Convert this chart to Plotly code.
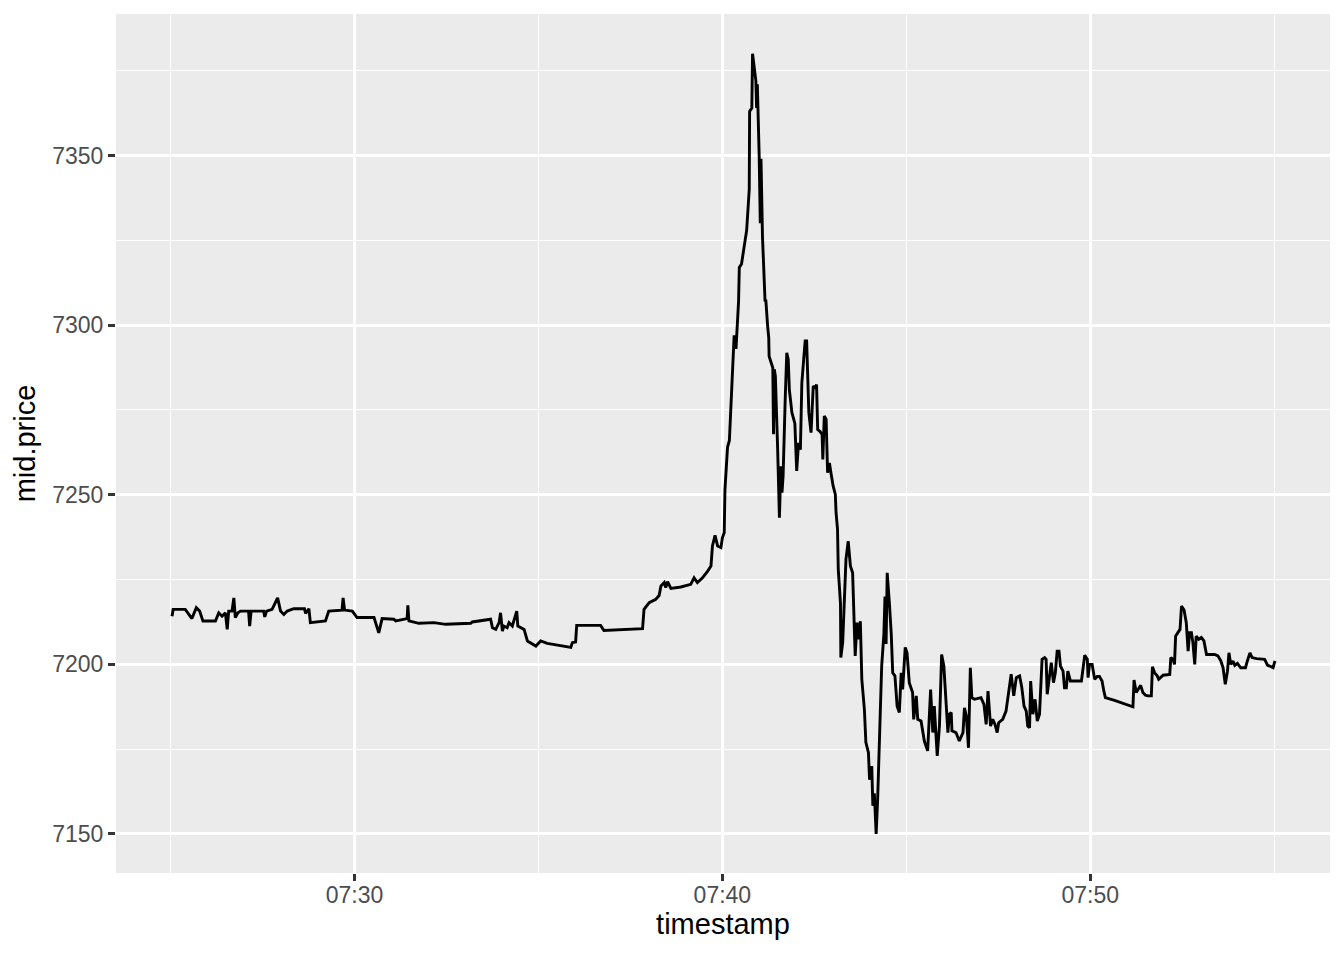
import pandas as pd
import plotly.graph_objects as go

# minutes elapsed since 07:25:00 and the mid price at that moment
elapsed_min = [
    0.04, 0.07, 0.40, 0.49, 0.58, 0.70, 0.79, 0.88, 1.22, 1.31, 1.40, 1.49, 1.54, 1.58,
    1.67, 1.72, 1.76, 1.83, 1.90, 2.12, 2.15, 2.19, 2.53, 2.56, 2.61, 2.76, 2.91, 2.99,
    3.08, 3.17, 3.35, 3.64, 3.67, 3.76, 3.80, 4.21, 4.30, 4.66, 4.69, 4.73, 4.94, 5.07,
    5.53, 5.66, 5.75, 6.07, 6.12, 6.43, 6.45, 6.48, 6.75, 7.16, 7.48, 8.16, 8.20, 8.70,
    8.75, 8.84, 8.93, 8.97, 9.02, 9.06, 9.15, 9.20, 9.29, 9.41, 9.44, 9.61, 9.70, 9.93,
    10.06, 10.24, 10.88, 10.92, 11.01, 11.04, 11.69, 11.78, 12.42, 12.83, 12.87, 13.01,
    13.19, 13.28, 13.33, 13.42, 13.46, 13.51, 13.60, 13.87, 14.14, 14.23, 14.32, 14.46,
    14.60, 14.69, 14.73, 14.80, 14.87, 14.96, 15.00, 15.05,
    15.07, 15.14, 15.19, 15.23, 15.28, 15.32, 15.37, 15.41, 15.44, 15.46, 15.52, 15.66,
    15.69, 15.73, 15.74, 15.80, 15.82, 15.87, 15.91, 15.93, 15.95, 16.00, 16.03, 16.05,
    16.09, 16.16, 16.18, 16.23, 16.26, 16.27, 16.37, 16.39, 16.41, 16.44, 16.47, 16.50,
    16.55, 16.59, 16.62, 16.65, 16.71, 16.75, 16.79, 16.82, 16.89, 16.94, 16.97, 17.02,
    17.07, 17.12, 17.16, 17.21, 17.25, 17.29, 17.32, 17.35, 17.41, 17.47, 17.53, 17.56,
    17.59, 17.65, 17.71, 17.73, 17.77, 17.82, 17.86, 17.91, 17.95, 18.01, 18.07, 18.09,
    18.13, 18.15, 18.21, 18.22, 18.27, 18.32, 18.36, 18.42, 18.48, 18.54, 18.59, 18.61,
    18.66, 18.70, 18.75, 18.79, 18.86, 18.90, 18.97, 19.00, 19.06, 19.09, 19.13, 19.18,
    19.22, 19.29, 19.33, 19.39, 19.42, 19.45, 19.48, 19.54, 19.59, 19.63, 19.69, 19.75,
    19.81, 19.86, 19.90, 19.97, 20.02, 20.08, 20.17, 20.20, 20.27, 20.31,
    20.40, 20.49, 20.58, 20.66, 20.72, 20.76, 20.84, 20.90, 20.96, 21.02, 21.08, 21.13,
    21.17, 21.22, 21.24, 21.35, 21.44, 21.54, 21.58, 21.63, 21.69, 21.74, 21.78, 21.85,
    22.03, 22.11, 22.17, 22.22, 22.29, 22.35, 22.41, 22.47, 22.51, 22.62, 22.71, 22.78,
    22.85, 22.92, 22.99, 23.08, 23.14, 23.20, 23.26, 23.30, 23.35, 23.38, 23.44, 23.50,
    23.56, 23.62, 23.69, 23.76, 23.80, 23.83, 23.89, 23.94, 24.00, 24.05, 24.10, 24.15,
    24.19, 24.26, 24.30, 24.35, 24.39, 24.46, 24.76, 24.85, 24.92, 24.94, 24.98, 25.05,
    25.12, 25.19, 25.25, 25.32, 25.37, 25.41, 25.66, 26.16, 26.19, 26.25, 26.30, 26.37,
    26.43, 26.50, 26.57, 26.66, 26.69, 26.75, 26.82, 26.86, 26.98, 27.16, 27.19, 27.25,
    27.29, 27.32, 27.39, 27.44, 27.48, 27.55, 27.61, 27.66, 27.70, 27.75, 27.79, 27.84,
    27.88, 27.95, 28.02, 28.09, 28.16, 28.38, 28.47, 28.55, 28.61, 28.67, 28.73, 28.77,
    28.82, 28.88, 28.93, 29.00, 29.09, 29.22, 29.27, 29.34, 29.40, 29.52, 29.74, 29.82,
    29.88, 29.97, 30.02,
]
mid_price = [
    7214.2, 7216.2, 7216.2, 7214.7, 7213.5, 7216.7, 7215.7, 7212.8, 7212.8, 7215.2, 7214.2, 7215.2, 7210.3, 7215.7,
    7215.7, 7219.6, 7213.8, 7215.2, 7215.7, 7215.7, 7211.3, 7215.7, 7215.7, 7214.0, 7215.7, 7216.2, 7219.6, 7215.7,
    7214.7, 7215.7, 7216.4, 7216.4, 7215.0, 7216.4, 7212.3, 7212.8, 7215.7, 7216.0, 7219.6, 7216.0, 7215.7, 7213.8,
    7213.8, 7209.3, 7213.5, 7213.3, 7212.8, 7213.5, 7217.4, 7212.8, 7212.1, 7212.3, 7211.8, 7212.1, 7212.5, 7213.3,
    7210.8, 7210.3, 7212.3, 7215.2, 7209.8, 7211.3, 7210.8, 7212.3, 7211.3, 7215.7, 7211.3, 7210.3, 7206.9, 7205.4,
    7206.9, 7206.2, 7205.0, 7206.4, 7206.6, 7211.5, 7211.5, 7210.0, 7210.3, 7210.5, 7216.2, 7218.2,
    7219.2, 7220.3, 7223.1, 7224.1, 7222.6, 7224.4, 7222.4, 7222.8, 7223.6, 7225.5, 7224.1, 7225.5,
    7227.5, 7229.0, 7234.9, 7238.0, 7234.9, 7234.4, 7237.3, 7238.8,
    7251.6, 7264.0, 7266.0, 7276.0, 7290.0, 7297.0, 7293.0, 7300.0, 7307.0, 7317.0, 7318.0, 7328.0,
    7335.0, 7340.0, 7363.0, 7364.0, 7380.0, 7375.0, 7372.0, 7364.0, 7371.0, 7350.0, 7330.0, 7349.0,
    7326.0, 7307.0, 7307.5, 7299.7, 7296.3, 7290.8, 7287.4, 7267.8, 7287.0, 7285.0, 7276.6, 7264.3,
    7243.2, 7258.4, 7250.6, 7255.5, 7279.0, 7291.8, 7289.9, 7281.0, 7274.2, 7271.7, 7271.0, 7257.0,
    7265.3, 7263.3, 7283.0, 7289.9, 7295.3, 7295.3, 7285.2, 7274.2, 7268.3, 7282.0, 7281.5, 7282.5,
    7269.2, 7268.7, 7267.8, 7260.4, 7273.2, 7272.2, 7256.5, 7259.4, 7256.5, 7252.6, 7250.1, 7244.7,
    7239.8, 7228.0, 7218.0, 7202.0, 7206.4, 7219.0, 7231.0, 7236.3, 7229.0, 7227.0, 7213.3, 7202.5,
    7212.3, 7207.4, 7212.7, 7195.6, 7186.7, 7177.0, 7174.0, 7166.0, 7170.0, 7158.3, 7162.0, 7150.0,
    7160.0, 7182.0, 7199.5, 7209.0, 7220.0, 7206.0, 7227.0, 7218.0, 7209.0, 7197.5, 7196.6, 7187.7,
    7185.8, 7197.5, 7192.6, 7205.0, 7203.4, 7194.6, 7191.7, 7183.8, 7190.7, 7183.8,
    7183.3, 7177.4, 7174.5, 7192.6, 7179.9, 7187.7, 7173.0, 7181.8, 7202.9, 7199.5, 7189.7, 7179.9,
    7185.3, 7185.8, 7180.4, 7179.9, 7177.4, 7179.9, 7187.2, 7184.8, 7175.4, 7199.0, 7190.2, 7189.7,
    7190.2, 7188.2, 7182.3, 7192.1, 7181.8, 7183.8, 7182.3, 7179.9, 7182.8, 7183.8, 7186.2, 7191.2,
    7197.1, 7190.7, 7196.1, 7196.6, 7193.1, 7187.7, 7186.2, 7181.8, 7181.3, 7195.1, 7185.3, 7189.7,
    7183.3, 7185.3, 7201.5, 7202.0, 7201.5, 7191.2, 7197.1, 7200.5, 7194.6, 7197.5, 7203.9, 7203.9,
    7199.5, 7198.0, 7193.1, 7193.1, 7198.0, 7195.1, 7195.1, 7202.7, 7201.5, 7196.1, 7200.0, 7200.0,
    7195.6, 7196.4, 7196.4, 7195.1, 7192.1, 7190.2, 7189.4, 7187.5, 7195.4, 7191.7, 7192.6, 7193.8,
    7191.7, 7190.9, 7190.7, 7190.7, 7199.3, 7197.5, 7196.6, 7195.6, 7196.8, 7197.0, 7202.0, 7201.5,
    7200.0, 7208.3, 7209.5, 7210.3, 7217.2, 7216.0, 7212.3, 7203.9, 7209.3, 7209.3, 7206.4, 7200.0,
    7208.3, 7207.4, 7207.9, 7206.9, 7202.9, 7202.9, 7202.5, 7201.0, 7199.0, 7194.1, 7198.0, 7203.4,
    7200.0, 7201.0, 7199.7, 7200.3, 7199.0, 7199.0, 7201.0, 7203.4, 7202.0, 7201.7, 7201.5, 7199.7,
    7199.5, 7199.0, 7201.0,
]

x_ticks = ["07:30", "07:40", "07:50"]
x_minor = ["07:25", "07:35", "07:45", "07:55"]
y_ticks = [7150, 7200, 7250, 7300, 7350]
y_minor = [7175, 7225, 7275, 7325, 7375]

DAY = "2018-01-01 "
start = pd.Timestamp(DAY + "07:25:00")
timestamp = start + pd.to_timedelta(elapsed_min, unit="m")

FONT = "Liberation Sans, Arial, sans-serif"

fig = go.Figure()
fig.add_trace(
    go.Scatter(
        x=timestamp,
        y=mid_price,
        mode="lines",
        line=dict(color="black", width=2.9),
        showlegend=False,
    )
)

# the page body has an 8px margin, so the figure is sized to fit inside it
fig.update_layout(
    width=1328,
    height=944,
    margin=dict(l=108, r=6, t=6, b=79),
    paper_bgcolor="white",
    plot_bgcolor="#EBEBEB",
    font=dict(family=FONT, color="black"),
)

fig.update_xaxes(
    range=[DAY + "07:23:31", DAY + "07:56:31"],
    tickvals=[DAY + t for t in x_ticks],
    ticktext=x_ticks,
    ticks="outside",
    ticklen=7,
    tickwidth=2.6,
    tickcolor="#333333",
    tickfont=dict(size=23, color="#4D4D4D"),
    ticklabelstandoff=-6,
    showgrid=True,
    gridcolor="white",
    gridwidth=2.8,
    minor=dict(tickvals=[DAY + t for t in x_minor], showgrid=True, gridcolor="white", gridwidth=1.4, ticks=""),
    zeroline=False,
    showline=False,
    title=dict(text="timestamp", font=dict(size=29, color="black"), standoff=6),
)

fig.update_yaxes(
    range=[7138.5, 7391.7],
    tickvals=y_ticks,
    ticks="outside",
    ticklen=7,
    tickwidth=2.6,
    tickcolor="#333333",
    tickfont=dict(size=23, color="#4D4D4D"),
    ticklabelstandoff=0,
    showgrid=True,
    gridcolor="white",
    gridwidth=2.8,
    minor=dict(tickvals=y_minor, showgrid=True, gridcolor="white", gridwidth=1.4, ticks=""),
    zeroline=False,
    showline=False,
    title=dict(text="mid.price", font=dict(size=29, color="black"), standoff=8),
)

fig.write_html("out.html")
